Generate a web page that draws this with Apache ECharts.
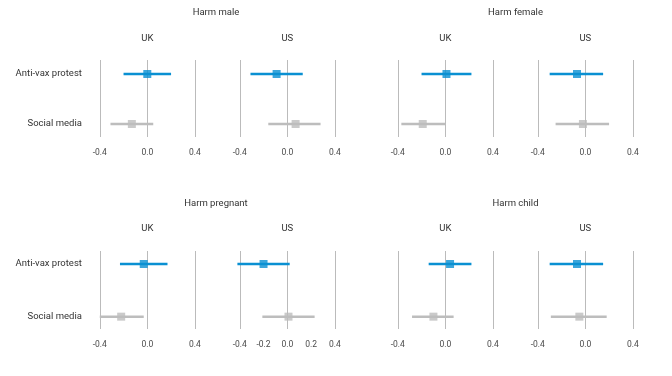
<!DOCTYPE html>
<html>
<head>
<meta charset="utf-8">
<script src="https://cdn.jsdelivr.net/npm/echarts@6/dist/echarts.min.js"></script>
<style>html,body{margin:0;padding:0;background:#fff;}#c{width:672px;height:376px;}</style>
</head>
<body>
<div id="c"></div>
<script>
// Panels: [male UK, male US, female UK, female US, pregnant UK, pregnant US, child UK, child US]
var panelTitles = ['Harm male', 'Harm female', 'Harm pregnant', 'Harm child'];
var countries = ['UK', 'US'];
var rowLabels = ['Social media', 'Anti-vax protest'];
var antivaxEst = [0.00, -0.09, 0.01, -0.07, -0.03, -0.20, 0.04, -0.07];
var antivaxLo  = [-0.20, -0.31, -0.20, -0.30, -0.23, -0.42, -0.14, -0.30];
var antivaxHi  = [0.20, 0.13, 0.22, 0.15, 0.17, 0.02, 0.22, 0.15];
var socialEst  = [-0.13, 0.07, -0.19, -0.02, -0.22, 0.01, -0.10, -0.05];
var socialLo   = [-0.31, -0.16, -0.37, -0.25, -0.40, -0.21, -0.28, -0.29];
var socialHi   = [0.05, 0.28, 0.00, 0.20, -0.03, 0.23, 0.07, 0.18];
var ticksDefault = [-0.4, 0.0, 0.4];
var ticksPregUS  = [-0.4, -0.2, 0.0, 0.2, 0.4];
var gridValues   = [-0.4, 0.0, 0.4];

var FONT = 'Roboto';
var BLUE = '#0a90d2';
var GREY = '#bdbdbd';
var zeroX = [147.3, 287.3, 445.3, 585.3];
var halfW = 59.4;
var rowsLayout = [
  {top: 60, height: 77, min: -0.26, max: 1.28},
  {top: 251, height: 78, min: -0.234, max: 1.247}
];

var grids = [], xAxes = [], yAxes = [], series = [], graphics = [];
for (var i = 0; i < 8; i++) {
  var row = Math.floor(i / 4);
  var col = i % 4;
  var L = rowsLayout[row];
  grids.push({left: zeroX[col] - halfW, width: halfW * 2, top: L.top, height: L.height});
  xAxes.push({
    type: 'value', gridIndex: i, min: -0.5, max: 0.5,
    axisLine: {show: false}, axisTick: {show: false}, splitLine: {show: false},
    axisLabel: {
      customValues: (i === 5 ? ticksPregUS : ticksDefault),
      formatter: function (v) { return v.toFixed(1); },
      color: '#4a4a4a', fontFamily: FONT, fontSize: 8.5, margin: 11
    }
  });
  yAxes.push({
    type: 'value', gridIndex: i, min: L.min, max: L.max,
    axisLine: {show: false}, axisTick: {show: false}, splitLine: {show: false},
    axisLabel: {
      show: col === 0,
      customValues: [0, 1],
      formatter: function (v) { return rowLabels[Math.round(v)]; },
      color: '#333', fontFamily: FONT, fontSize: 9.5, margin: 6
    }
  });
  var ciData = [
    {value: [socialLo[i], socialHi[i], 0], itemStyle: {color: GREY}},
    {value: [antivaxLo[i], antivaxHi[i], 1], itemStyle: {color: BLUE}}
  ];
  series.push({
    type: 'custom', xAxisIndex: i, yAxisIndex: i, z: 3, silent: true,
    data: ciData,
    encode: {x: [0, 1], y: 2},
    renderItem: function (params, api) {
      var p1 = api.coord([api.value(0), api.value(2)]);
      var p2 = api.coord([api.value(1), api.value(2)]);
      return {
        type: 'line',
        shape: {x1: p1[0], y1: p1[1], x2: p2[0], y2: p2[1]},
        style: {stroke: api.visual('color'), lineWidth: 2.5}
      };
    }
  });
  series.push({
    type: 'scatter', xAxisIndex: i, yAxisIndex: i, z: 4, silent: true,
    symbol: 'rect', symbolSize: 8,
    data: [
      {value: [socialEst[i], 0], itemStyle: {color: GREY}},
      {value: [antivaxEst[i], 1], itemStyle: {color: BLUE}}
    ],
    markLine: {
      silent: true, symbol: 'none', z: 1, animation: false,
      label: {show: false},
      lineStyle: {color: '#bbbbbb', width: 1, type: 'solid'},
      data: gridValues.map(function (v) { return {xAxis: v}; })
    }
  });
  graphics.push({
    type: 'text', x: zeroX[col], y: (row === 0 ? 38.5 : 228.5),
    style: {text: countries[col % 2], fontFamily: FONT, fontSize: 9.5, fill: '#333',
            textAlign: 'center', textVerticalAlign: 'middle'}
  });
}
var titleX = [216, 515.5, 216, 515.5];
var titleY = [13, 13, 204, 204];
for (var t = 0; t < 4; t++) {
  graphics.push({
    type: 'text', x: titleX[t], y: titleY[t],
    style: {text: panelTitles[t], fontFamily: FONT, fontSize: 9.5, fill: '#333',
            textAlign: 'center', textVerticalAlign: 'middle'}
  });
}

var chart = echarts.init(document.getElementById('c'));
chart.setOption({
  animation: false,
  backgroundColor: '#fff',
  grid: grids, xAxis: xAxes, yAxis: yAxes, series: series,
  graphic: graphics
});
</script>
</body>
</html>
